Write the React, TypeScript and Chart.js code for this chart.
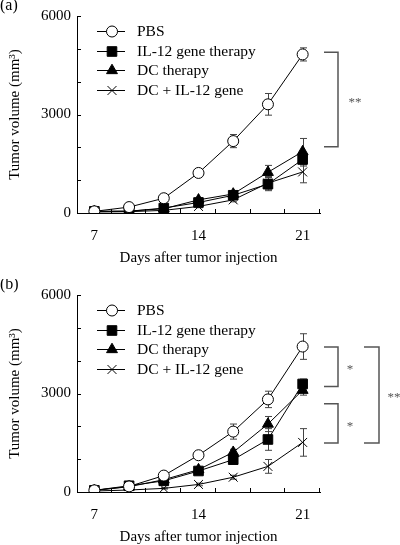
import React, { useEffect, useRef } from 'react';
import { Chart, registerables } from 'chart.js';
import { drawPoint } from 'chart.js/helpers';

Chart.register(...registerables);

const FONT = "'Liberation Serif', 'Times New Roman', serif";

// Category ticks (only 7, 14 and 21 are labelled)
const dayLabels = ['7', '', '', '14', '', '', '21'];
const yLabelledTicks = [0, 3000, 6000];
const seriesNames = ['PBS', 'IL-12 gene therapy', 'DC therapy', 'DC + IL-12 gene'];

// Panel (a)
const pbsA = [50, 180, 450, 1220, 2190, 3310, 4830];
const pbsAErr = [20, 30, 40, 80, 200, 330, 200];
const il12A = [50, 50, 150, 320, 540, 880, 1630];
const il12AErr = [10, 20, 30, 50, 60, 200, 200];
const dcA = [50, 60, 130, 400, 580, 1240, 1870];
const dcAErr = [10, 20, 30, 60, 80, 210, 400];
const comboA = [30, 40, 80, 200, 400, 910, 1250];
const comboAErr = [10, 10, 20, 40, 60, 200, 330];

// Panel (b)
const pbsB = [50, 170, 500, 1120, 1840, 2820, 4430];
const pbsBErr = [20, 30, 40, 70, 230, 250, 390];
const il12B = [50, 190, 340, 640, 985, 1600, 3290];
const il12BErr = [10, 30, 40, 60, 80, 330, 150];
const dcB = [50, 160, 375, 680, 1210, 2070, 3100];
const dcBErr = [10, 20, 40, 60, 90, 230, 150];
const comboB = [30, 60, 110, 230, 450, 780, 1510];
const comboBErr = [10, 10, 20, 40, 60, 210, 420];

// Significance brackets (y values in mm³)
const sigA = [{ from: 4894, to: 2019, label: '**', col: 0 }];
const sigB = [
  { from: 4416, to: 3216, label: '*', col: 0 },
  { from: 2689, to: 1492, label: '*', col: 0 },
  { from: 4416, to: 1492, label: '**', col: 1 },
];

const pointStyles = ['circle', 'rect', 'triangle', 'crossRot'];
const pointRadii = [5.5, 6.8, 6.3, 6.3];
const pointFills = ['#ffffff', '#000000', '#000000', '#000000'];

const overlayPlugin = {
  id: 'overlay',
  beforeDatasetsDraw(chart: any, _args: any, opts: any) {
    const ctx = chart.ctx;
    const y = chart.scales.y;
    ctx.save();
    ctx.strokeStyle = '#444';
    ctx.lineWidth = 1;
    opts.errors.forEach((errs: number[], i: number) => {
      const meta = chart.getDatasetMeta(i);
      const vals = chart.data.datasets[i].data as number[];
      meta.data.forEach((pt: any, j: number) => {
        const x = Math.round(pt.x) + 0.5;
        const yt = y.getPixelForValue(vals[j] + errs[j]);
        const yb = y.getPixelForValue(vals[j] - errs[j]);
        ctx.beginPath();
        ctx.moveTo(x, yt);
        ctx.lineTo(x, yb);
        ctx.moveTo(x - 3.5, yt);
        ctx.lineTo(x + 3.5, yt);
        ctx.moveTo(x - 3.5, yb);
        ctx.lineTo(x + 3.5, yb);
        ctx.stroke();
      });
    });
    ctx.restore();
  },
  afterDraw(chart: any, _args: any, opts: any) {
    const ctx = chart.ctx;
    const { left, right, top, bottom } = chart.chartArea;
    const xs = chart.scales.x;
    const ys = chart.scales.y;
    ctx.save();
    // inward tick marks
    ctx.strokeStyle = '#000';
    ctx.lineWidth = 1;
    ctx.beginPath();
    ys.ticks.forEach((t: any) => {
      const py = Math.round(ys.getPixelForValue(t.value)) + 0.5;
      ctx.moveTo(left, py);
      ctx.lineTo(left + 4, py);
    });
    const half = (xs.getPixelForValue(1) - xs.getPixelForValue(0)) / 2;
    for (let i = 0; i < dayLabels.length; i++) {
      const px = Math.round(xs.getPixelForValue(i) + half) - 0.5;
      ctx.moveTo(px, bottom);
      ctx.lineTo(px, bottom - 4);
    }
    ctx.stroke();

    // legend
    ctx.font = `15.5px ${FONT}`;
    ctx.textBaseline = 'middle';
    ctx.textAlign = 'left';
    seriesNames.forEach((name, i) => {
      const ly = top + 15 + 19.5 * i;
      ctx.strokeStyle = '#000';
      ctx.lineWidth = 1;
      ctx.beginPath();
      ctx.moveTo(left + 20, Math.round(ly) + 0.5);
      ctx.lineTo(left + 48, Math.round(ly) + 0.5);
      ctx.stroke();
      ctx.fillStyle = pointFills[i];
      ctx.strokeStyle = '#000';
      drawPoint(ctx, { pointStyle: pointStyles[i] as any, radius: pointRadii[i], rotation: 0, borderWidth: 1 }, left + 35, Math.round(ly) + 0.5);
      ctx.fillStyle = '#000';
      ctx.fillText(name, left + 60, ly + 1);
    });

    // brackets
    ctx.strokeStyle = '#555';
    ctx.lineWidth = 1.5;
    ctx.fillStyle = '#555';
    ctx.font = `13px ${FONT}`;
    ctx.textAlign = 'center';
    opts.brackets.forEach((b: any) => {
      const x0 = right + (b.col === 0 ? 4 : 44);
      const x1 = right + (b.col === 0 ? 18 : 59);
      const y0 = ys.getPixelForValue(b.from);
      const y1 = ys.getPixelForValue(b.to);
      ctx.beginPath();
      ctx.moveTo(x0, y0);
      ctx.lineTo(x1, y0);
      ctx.lineTo(x1, y1);
      ctx.lineTo(x0, y1);
      ctx.stroke();
      const lx = right + (b.col === 0 ? (b.label.length > 1 ? 35 : 30) : 74);
      ctx.fillText(b.label, lx, (y0 + y1) / 2 + 3);
    });

    // panel letter
    ctx.fillStyle = '#000';
    ctx.font = `16px ${FONT}`;
    ctx.textAlign = 'left';
    ctx.textBaseline = 'alphabetic';
    ctx.fillText(opts.letter, 0, 10);
    ctx.restore();
  },
};

function Panel(props: { top: number; letter: string; series: number[][]; errors: number[][]; brackets: any[] }) {
  const ref = useRef<HTMLCanvasElement>(null);
  useEffect(() => {
    const chart = new Chart(ref.current as HTMLCanvasElement, {
      type: 'line',
      data: {
        labels: dayLabels,
        datasets: props.series.map((d, i) => ({
          label: seriesNames[i],
          data: d,
          borderColor: '#000',
          borderWidth: 1,
          pointStyle: pointStyles[i] as any,
          pointRadius: pointRadii[i],
          pointBackgroundColor: pointFills[i],
          pointBorderColor: '#000',
          pointBorderWidth: 1,
          tension: 0,
          fill: false,
        })),
      },
      options: {
        animation: false,
        responsive: false,
        devicePixelRatio: 1,
        layout: { padding: { top: 16, right: 80, left: 0, bottom: 0 } },
        plugins: {
          legend: { display: false },
          tooltip: { enabled: false },
          overlay: { errors: props.errors, brackets: props.brackets, letter: props.letter },
        } as any,
        scales: {
          x: {
            type: 'category',
            offset: true,
            grid: { display: false, drawTicks: false, offset: true },
            border: { display: true, color: '#000', width: 1 },
            ticks: { autoSkip: false, maxRotation: 0, color: '#000', font: { family: FONT, size: 15 }, padding: 14 },
            title: { display: true, text: 'Days after tumor injection', color: '#000', font: { family: FONT, size: 15, lineHeight: 1 }, padding: 0 },
            afterFit: (s: any) => { s.height = 53; },
          },
          y: {
            min: 0,
            max: 6000,
            grid: { display: false, drawTicks: false },
            border: { display: true, color: '#000', width: 1 },
            ticks: {
              stepSize: 1000,
              color: '#000',
              font: { family: FONT, size: 15 },
              padding: 6,
              callback: (v: any) => (yLabelledTicks.includes(Number(v)) ? String(v) : ''),
            },
            title: { display: true, text: 'Tumor volume (mm³)', color: '#000', font: { family: FONT, size: 15, lineHeight: 1 }, padding: { top: 8, bottom: 0 } },
            afterFit: (s: any) => { s.width = 77; },
          },
        },
      },
      plugins: [overlayPlugin],
    });
    return () => chart.destroy();
  }, []);
  return (
    <canvas
      ref={ref}
      width={400}
      height={266}
      style={{ position: 'absolute', left: 0, top: props.top, width: 400, height: 266 }}
    />
  );
}

export default function App() {
  return (
    <div style={{ position: 'absolute', left: 0, top: 0, width: 400, height: 545, background: '#fff', overflow: 'hidden' }}>
      <Panel top={0} letter="(a)" series={[pbsA, il12A, dcA, comboA]} errors={[pbsAErr, il12AErr, dcAErr, comboAErr]} brackets={sigA} />
      <Panel top={279} letter="(b)" series={[pbsB, il12B, dcB, comboB]} errors={[pbsBErr, il12BErr, dcBErr, comboBErr]} brackets={sigB} />
    </div>
  );
}
